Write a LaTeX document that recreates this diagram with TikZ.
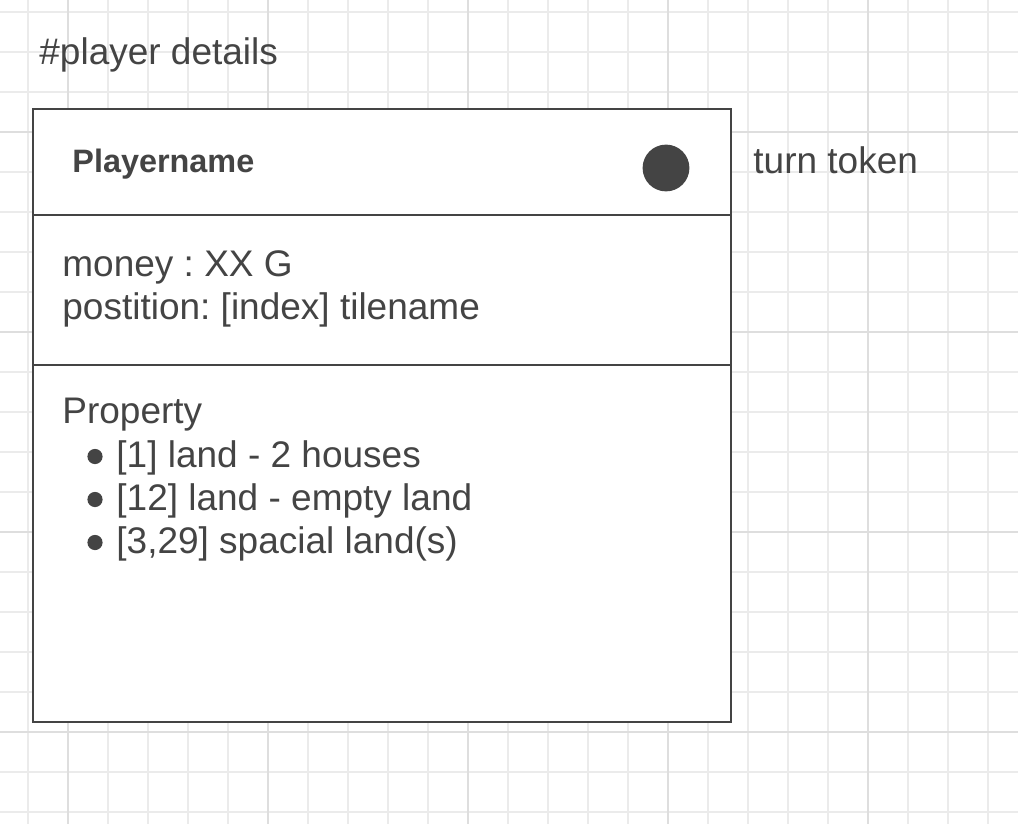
\documentclass[tikz,border=0pt]{standalone}
\usepackage{fontspec}
\setmainfont{Liberation Sans}
\usetikzlibrary{positioning}
\frenchspacing

\definecolor{ink}{HTML}{444444}
\definecolor{gridminor}{HTML}{EBEBEB}
\definecolor{gridmajor}{HTML}{DEDEDE}

\begin{document}
\begin{tikzpicture}[x=0.5pt,y=-0.5pt,
    minorline/.style={gridminor, line width=1pt},
    majorline/.style={gridmajor, line width=1pt},
    panel/.style={draw=ink, line width=1pt, fill=white, rectangle,
        inner sep=0, outer sep=0, minimum width=349pt},
    txt/.style={anchor=base west, inner sep=0, text=ink,
        font=\fontsize{18.5}{22}\selectfont},
    headtxt/.style={txt, font=\bfseries\fontsize{16.2}{19}\selectfont},
    token/.style={circle, fill=ink, inner sep=0, minimum size=23.4pt}]
\useasboundingbox (0,0) rectangle (1018,824);
\fill[white] (0,0) rectangle (1018,824);

% grid
\foreach \gx in {0,...,24}
    \draw[minorline] (28+40*\gx,0) -- (28+40*\gx,824);
\foreach \gy in {0,...,20}
    \draw[minorline] (0,12+40*\gy) -- (1018,12+40*\gy);
\foreach \gx in {68,268,468,668,868}
    \draw[majorline] (\gx,0) -- (\gx,824);
\foreach \gy in {132,332,532,732}
    \draw[majorline] (0,\gy) -- (1018,\gy);

\node[txt] (title) at (39,65) {\#player details};

% the card
\node[panel, anchor=north west, minimum height=53pt] (head) at (33,109) {};
\node[panel, minimum height=75pt, below=0pt of head] (info) {};
\node[panel, minimum height=178.5pt, below=0pt of info] (props) {};

\node[headtxt] (pname) at (72,173) {Playername};
\node[token] (token) at (666,168) {};
\node[txt] (turn) at (753,174) {turn token};

\node[txt] (money) at (62,277) {money : XX G};
\node[txt] (pos) at (62,319.5) {postition: [index] tilename};

\node[txt] (proptitle) at (62,423) {Property};
\foreach \entry/\yb [count=\i] in {{[1] land - 2 houses}/467,
    {[12] land - empty land}/510, {[3,29] spacial land(s)}/553} {
    \fill[ink] (95,\yb-10.5) circle (3.8pt);
    \node[txt] (prop-\i) at (116,\yb) {\entry};
}

\end{tikzpicture}
\end{document}
